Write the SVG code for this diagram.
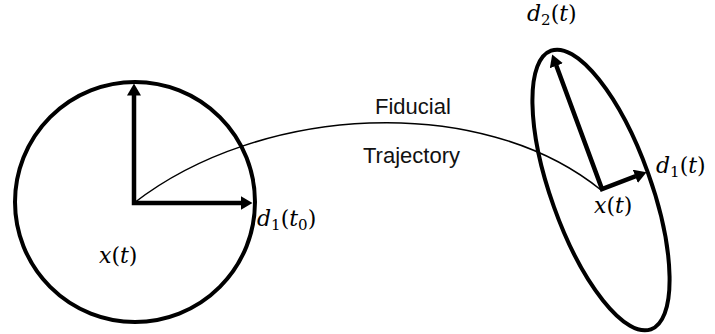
<svg xmlns="http://www.w3.org/2000/svg" width="715" height="334" viewBox="0 0 715 334">
<style>
.shape{fill:none;stroke:#000;stroke-width:4}
.vec{fill:none;stroke:#000;stroke-width:4.5;stroke-linejoin:miter}
.traj{fill:none;stroke:#000;stroke-width:1.5}
.lbl{font-family:"Liberation Sans",Arial,sans-serif;font-size:22px;fill:#111}
.m{font-family:"DejaVu Serif","Liberation Serif",serif;font-size:22px;fill:#000}
.i{font-style:italic}
.s{font-size:15px}
</style>
<defs>
<marker id="ah" viewBox="0 0 12 14" markerWidth="12" markerHeight="14" refX="0.5" refY="7" orient="auto-start-reverse" markerUnits="userSpaceOnUse">
<path d="M0,0 L12,7 L0,14 z" fill="#000"/>
</marker>
</defs>
<g id="connectors">
<path class="traj" d="M134,203 C260,105 480,92 601,190"/>
</g>
<g id="node-start">
<circle class="shape" cx="135" cy="202" r="120"/>
<polyline class="vec" points="134,95 134,203 241,203" marker-start="url(#ah)" marker-end="url(#ah)"/>
<text class="m" x="99" y="263"><tspan class="i">x</tspan>(<tspan class="i">t</tspan>)</text>
<text class="m" x="257" y="226"><tspan class="i">d</tspan><tspan class="s" dy="4">1</tspan><tspan dy="-4">(</tspan><tspan class="i">t</tspan><tspan class="s" dy="4">0</tspan><tspan dy="-4">)</tspan></text>
</g>
<g id="node-end">
<ellipse class="shape" cx="0" cy="0" rx="50" ry="148" transform="translate(601,190) rotate(-19.7)"/>
<polyline class="vec" points="556.2,65.3 602,189 635.8,176.2" marker-start="url(#ah)" marker-end="url(#ah)"/>
<text class="m" x="594" y="213"><tspan class="i">x</tspan>(<tspan class="i">t</tspan>)</text>
<text class="m" x="656" y="173"><tspan class="i">d</tspan><tspan class="s" dy="4">1</tspan><tspan dy="-4">(</tspan><tspan class="i">t</tspan>)</text>
<text class="m" x="527" y="21"><tspan class="i">d</tspan><tspan class="s" dy="4">2</tspan><tspan dy="-4">(</tspan><tspan class="i">t</tspan>)</text>
</g>
<g id="label-trajectory">
<text class="lbl" x="375" y="114">Fiducial</text>
<text class="lbl" x="363" y="163">Trajectory</text>
</g>
</svg>
